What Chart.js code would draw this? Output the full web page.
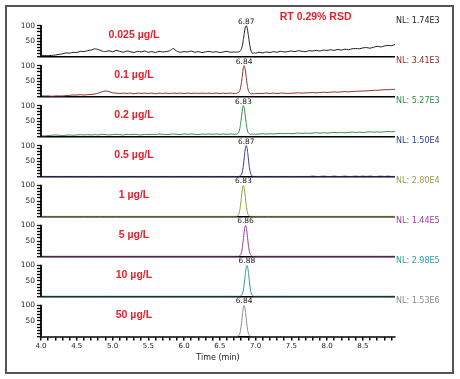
<!DOCTYPE html>
<html>
<head>
<meta charset="utf-8">
<script src="https://cdn.jsdelivr.net/npm/chart.js@4"></script>
<style>
  body { margin: 0; background: #fff; }
  #wrap { position: relative; width: 460px; height: 379px; }
  #frame { position: absolute; left: 5px; top: 5px; width: 445px; height: 365px; border: 2px solid #555; }
  canvas { position: absolute; left: 0; top: 0; }
</style>
</head>
<body>
<div id="wrap">
  <div id="frame"></div>
  <canvas id="chrom" width="460" height="379"></canvas>
</div>
<script>
/******************* Chromatogrammes empilés *******************/

// Temps (min)
const times = [
  4.00, 4.05, 4.10, 4.15, 4.20, 4.25, 4.30, 4.35, 4.40, 4.45,
  4.50, 4.55, 4.60, 4.65, 4.70, 4.75, 4.80, 4.85, 4.90, 4.95,
  5.00, 5.05, 5.10, 5.15, 5.20, 5.25, 5.30, 5.35, 5.40, 5.45,
  5.50, 5.55, 5.60, 5.65, 5.70, 5.75, 5.80, 5.85, 5.90, 5.95,
  6.00, 6.05, 6.10, 6.15, 6.20, 6.25, 6.30, 6.35, 6.40, 6.45,
  6.50, 6.55, 6.60, 6.65, 6.70,
  6.71, 6.72, 6.73, 6.74, 6.75, 6.76, 6.77, 6.78, 6.79, 6.80,
  6.81, 6.82, 6.83, 6.84, 6.85, 6.86, 6.87, 6.88, 6.89, 6.90,
  6.91, 6.92, 6.93, 6.94, 6.95, 6.96, 6.97, 6.98, 6.99, 7.00,
  7.05, 7.10, 7.15, 7.20, 7.25, 7.30, 7.35, 7.40, 7.45, 7.50,
  7.55, 7.60, 7.65, 7.70, 7.75, 7.80, 7.85, 7.90, 7.95, 8.00,
  8.05, 8.10, 8.15, 8.20, 8.25, 8.30, 8.35, 8.40, 8.45, 8.50,
  8.55, 8.60, 8.65, 8.70, 8.75, 8.80, 8.85, 8.90, 8.95
];

const concLabels = ['0.025 µg/L', '0.1 µg/L', '0.2 µg/L', '0.5 µg/L', '1 µg/L', '5 µg/L', '10 µg/L', '50 µg/L'];
const nlLabels = ['NL: 1.74E3', 'NL: 3.41E3', 'NL: 5.27E3', 'NL: 1.50E4', 'NL: 2.80E4', 'NL: 1.44E5', 'NL: 2.98E5', 'NL: 1.53E6'];
const peakTimes = [6.87, 6.84, 6.83, 6.87, 6.83, 6.86, 6.88, 6.84];
const lineColors = ['#1a1a1a', '#8c2a2a', '#2e8b4a', '#2e3a8c', '#9a9a3a', '#9a3a9a', '#2a9a9a', '#8a8a8a'];
const nlColors = ['#1a1a1a', '#8c2a2a', '#2e8b4a', '#2e3a8c', '#9a9a44', '#9a3a9a', '#2a9a9a', '#8a8a8a'];

// Abondance relative (%)
const trace1 = [
  5, 5, 4, 5, 6, 8, 10, 13, 12, 15, 14, 18, 17, 20, 22, 26, 24, 19, 17, 20,
  16, 21, 18, 15, 19, 17, 14, 18, 16, 19, 15, 17, 14, 18, 16, 17, 20, 27, 18, 15,
  17, 16, 19, 15, 17, 14, 16, 18, 15, 17, 14, 16, 18, 15, 16,
  16, 15, 16, 15, 16, 16, 17, 18, 20, 24, 31, 42, 56, 72, 87, 97, 100, 96, 84, 68,
  52, 37, 26, 18, 14, 11, 12, 14, 13, 12,
  15, 13, 16, 14, 17, 15, 18, 16, 17, 19, 17, 20, 18, 17, 20, 19, 21, 19, 22, 21,
  23, 21, 24, 22, 25, 23, 26, 27, 26, 29, 30, 28, 31, 34, 32, 35, 37, 36, 40
];
const trace2 = [
  3, 3, 3, 2, 3, 3, 3, 4, 5, 6, 6, 7, 6, 7, 8, 9, 12, 16, 19, 17,
  13, 12, 11, 12, 11, 12, 10, 12, 11, 12, 11, 12, 10, 12, 11, 12, 11, 12, 11, 12,
  11, 12, 11, 12, 11, 12, 11, 12, 11, 12, 11, 12, 11, 12, 11,
  11, 11, 12, 12, 13, 14, 16, 20, 28, 42, 58, 77, 94, 100, 95, 80, 62, 44, 30, 20,
  15, 12, 11, 10, 10, 11, 10, 11, 10, 11,
  11, 11, 12, 11, 12, 11, 12, 12, 11, 12, 12, 13, 12, 13, 13, 14, 13, 14, 15, 14,
  15, 16, 15, 16, 17, 16, 17, 18, 18, 19, 19, 20, 21, 21, 22, 23, 23, 24, 24
];
const trace3 = [
  3, 3, 4, 5, 6, 5, 4, 5, 6, 5, 6, 7, 6, 7, 6, 7, 6, 8, 7, 6,
  7, 8, 7, 6, 8, 7, 8, 7, 6, 8, 7, 8, 7, 9, 8, 7, 8, 9, 8, 7,
  9, 8, 9, 8, 7, 9, 8, 9, 8, 9, 8, 9, 8, 9, 8,
  8, 9, 8, 9, 10, 12, 17, 26, 40, 57, 76, 94, 100, 95, 79, 60, 42, 27, 17, 12,
  10, 9, 8, 9, 8, 9, 8, 9, 9, 8,
  9, 10, 9, 10, 9, 10, 11, 10, 11, 10, 11, 12, 11, 12, 11, 12, 13, 12, 13, 12,
  13, 14, 13, 14, 13, 14, 15, 14, 15, 14, 15, 16, 15, 16, 15, 16, 17, 16, 17
];
const trace4 = [
  1, 1, 1, 1, 1, 1, 1, 1, 1, 1, 1, 1, 1, 1, 1, 1, 1, 1, 1, 1,
  1, 1, 1, 1, 1, 1, 1, 1, 1, 1, 1, 1, 1, 1, 1, 1, 1, 1, 1, 1,
  1, 1, 1, 1, 1, 1, 1, 1, 1, 1, 1, 1, 1, 1, 1,
  1, 1, 1, 1, 1, 1, 1, 2, 3, 5, 11, 21, 37, 57, 78, 94, 100, 94, 78, 57,
  37, 21, 11, 5, 3, 2, 1, 1, 1, 1,
  1, 1, 1, 1, 1, 1, 1, 1, 1, 1, 1, 1, 1, 1, 1, 2, 1, 1, 2, 1,
  1, 2, 1, 1, 2, 1, 1, 2, 1, 2, 1, 2, 1, 1, 2, 1, 2, 1, 1
];
const trace5 = [
  1, 1, 1, 1, 1, 1, 1, 1, 1, 1, 1, 1, 1, 1, 1, 1, 1, 1, 1, 1,
  1, 1, 1, 1, 1, 1, 1, 1, 1, 1, 1, 1, 1, 1, 1, 1, 1, 1, 1, 1,
  1, 1, 1, 1, 1, 1, 1, 1, 1, 1, 1, 1, 1, 1, 1,
  1, 1, 1, 2, 3, 5, 11, 21, 37, 57, 78, 94, 100, 94, 78, 57, 37, 21, 11, 5,
  3, 2, 1, 1, 1, 1, 1, 1, 1, 1,
  1, 1, 1, 1, 1, 1, 1, 1, 1, 1, 1, 1, 1, 1, 1, 1, 1, 1, 1, 1,
  1, 1, 1, 1, 1, 1, 1, 1, 1, 1, 1, 1, 1, 1, 1, 1, 1, 1, 1
];
const trace6 = [
  1, 1, 1, 1, 1, 1, 1, 1, 1, 1, 1, 1, 1, 1, 1, 1, 1, 1, 1, 1,
  1, 1, 1, 1, 1, 1, 1, 1, 1, 1, 1, 1, 1, 1, 1, 1, 1, 1, 1, 1,
  1, 1, 1, 1, 1, 1, 1, 1, 1, 1, 1, 1, 1, 1, 1,
  1, 1, 1, 1, 1, 1, 2, 3, 5, 11, 21, 37, 57, 78, 94, 100, 94, 78, 57, 37,
  21, 11, 5, 3, 2, 1, 1, 1, 1, 1,
  1, 1, 1, 1, 1, 1, 1, 1, 1, 1, 1, 1, 1, 1, 1, 1, 1, 1, 1, 1,
  1, 1, 1, 1, 1, 1, 1, 1, 1, 1, 1, 1, 1, 1, 1, 1, 1, 1, 1
];
const trace7 = [
  1, 1, 1, 1, 1, 1, 1, 1, 1, 1, 1, 1, 1, 1, 1, 1, 1, 1, 1, 1,
  1, 1, 1, 1, 1, 1, 1, 1, 1, 1, 1, 1, 1, 1, 1, 1, 1, 1, 1, 1,
  1, 1, 1, 1, 1, 1, 1, 1, 1, 1, 1, 1, 1, 1, 1,
  1, 1, 1, 1, 1, 1, 1, 1, 2, 3, 5, 11, 21, 37, 57, 78, 94, 100, 94, 78,
  57, 37, 21, 11, 5, 3, 2, 1, 1, 1,
  1, 1, 1, 1, 1, 1, 1, 1, 1, 1, 1, 1, 1, 1, 1, 1, 1, 1, 1, 1,
  1, 1, 1, 1, 1, 1, 1, 1, 1, 1, 1, 1, 1, 1, 1, 1, 1, 1, 1
];
const trace8 = [
  0, 0, 0, 0, 0, 0, 0, 0, 0, 0, 0, 0, 0, 0, 0, 0, 0, 0, 0, 0,
  0, 0, 0, 0, 0, 0, 0, 0, 0, 0, 0, 0, 0, 0, 0, 0, 0, 0, 0, 0,
  0, 0, 0, 0, 0, 0, 0, 0, 0, 0, 0, 0, 0, 0, 0,
  0, 0, 0, 0, 1, 2, 4, 10, 20, 36, 56, 77, 94, 100, 94, 77, 56, 36, 20, 10,
  4, 2, 1, 0, 0, 0, 0, 0, 0, 0,
  0, 0, 0, 0, 0, 0, 0, 0, 0, 0, 0, 0, 0, 0, 0, 0, 0, 0, 0, 0,
  0, 0, 0, 0, 0, 0, 0, 0, 0, 0, 0, 0, 0, 0, 0, 0, 0, 0, 0
];
const traces = [trace1, trace2, trace3, trace4, trace5, trace6, trace7, trace8];

const smallFont = 'DejaVu Sans';
const boldFont = '"Liberation Sans", Arial, sans-serif';
const red = '#e8202a';

// Un axe Y par chromatogramme, empilés
let scales = {
    x: {
        type: 'linear',
        min: 4,
        max: 8.95,
        z: 1,
        border: { display: true, color: '#000', width: 1.5 },
        grid: { drawOnChartArea: false, drawTicks: true, tickLength: 4, tickColor: '#000', lineWidth: 1.5 },
        ticks: {
            stepSize: 0.1,
            maxTicksLimit: 100,
            autoSkip: false,
            includeBounds: false,
            maxRotation: 0,
            padding: 1,
            color: '#222',
            font: { family: smallFont, size: 7 },
            callback: (v) => Math.round(v * 10) % 5 === 0 ? v.toFixed(1) : ''
        },
        title: {
            display: true,
            text: 'Time (min)',
            color: '#222',
            font: { family: smallFont, size: 8 },
            padding: { top: 4, bottom: 16 }
        },
        afterFit: (s) => { s.height = 42.5; }
    }
};

traces.forEach((tr, i) => {
    scales['y' + i] = {
        type: 'linear',
        position: 'left',
        stack: 'panels',
        stackWeight: 1,
        weight: 8 - i,
        min: 0,
        max: 128,
        border: { display: false },
        grid: {
            drawOnChartArea: true,
            color: (c) => (c.tick && c.tick.value === 0) ? '#000' : 'rgba(0,0,0,0)',
            lineWidth: (c) => (c.tick && c.tick.value === 0) ? 1.5 : 1,
            tickColor: '#000',
            tickWidth: 1.3,
            tickLength: 4
        },
        ticks: {
            stepSize: 10,
            maxTicksLimit: 100,
            autoSkip: false,
            padding: 2,
            color: '#222',
            font: { family: smallFont, size: 7.5 },
            callback: (v) => (v === 50 || v === 100) ? String(v) : ''
        },
        afterBuildTicks: (s) => { s.ticks = s.ticks.filter((t) => t.value <= 100); },
        afterFit: (s) => { s.width = 41; }
    };
});

const annotations = {
    id: 'annotations',
    afterDatasetsDraw(chart) {
        const ctx = chart.ctx;
        const xs = chart.scales.x;
        const area = chart.chartArea;
        ctx.save();
        traces.forEach((tr, i) => {
            const ys = chart.scales['y' + i];
            // axe vertical de chaque panneau
            ctx.strokeStyle = '#000';
            ctx.lineWidth = 1.8;
            ctx.beginPath();
            ctx.moveTo(area.left, ys.getPixelForValue(0));
            ctx.lineTo(area.left, ys.getPixelForValue(102));
            ctx.stroke();
            // concentration
            ctx.textAlign = 'center';
            ctx.textBaseline = 'middle';
            ctx.fillStyle = red;
            ctx.font = 'bold 10.5px ' + boldFont;
            ctx.fillText(concLabels[i], xs.getPixelForValue(5.3), ys.getPixelForValue(69));
            // temps de rétention
            ctx.fillStyle = '#222';
            ctx.font = '7.5px "' + smallFont + '"';
            ctx.fillText(peakTimes[i].toFixed(2), xs.getPixelForValue(peakTimes[i]), ys.getPixelForValue(100) - 4);
            // NL
            ctx.textAlign = 'left';
            ctx.fillStyle = nlColors[i];
            ctx.font = '8px "' + smallFont + '"';
            ctx.fillText(nlLabels[i], area.right + 1, ys.getPixelForValue(115));
        });
        ctx.textAlign = 'center';
        ctx.textBaseline = 'middle';
        ctx.fillStyle = red;
        ctx.font = 'bold 10.5px ' + boldFont;
        ctx.fillText('RT 0.29% RSD', xs.getPixelForValue(7.84), area.top);
        ctx.restore();
    }
};

let chart = new Chart(document.getElementById('chrom'), {
    type: 'line',
    data: {
        datasets: traces.map((tr, i) => ({
            data: tr.map((v, k) => ({ x: times[k], y: v })),
            yAxisID: 'y' + i,
            borderColor: lineColors[i],
            borderWidth: 1,
            pointRadius: 0,
            tension: 0.2
        }))
    },
    options: {
        responsive: false,
        animation: false,
        layout: { padding: { top: 17, right: 65, left: 0, bottom: 0 } },
        plugins: { legend: { display: false }, tooltip: { enabled: false } },
        scales: scales
    },
    plugins: [annotations]
});
</script>
</body>
</html>
